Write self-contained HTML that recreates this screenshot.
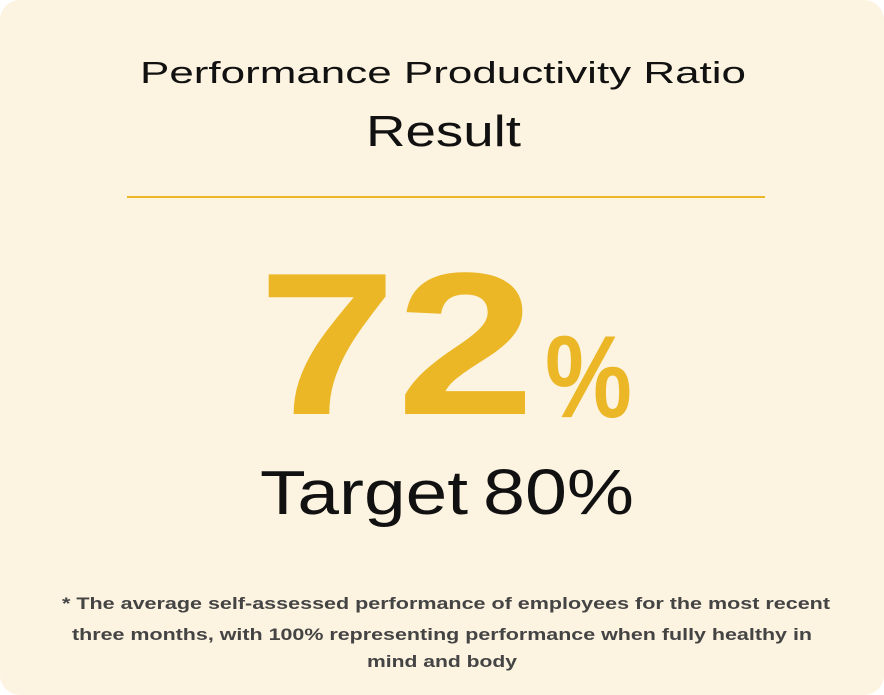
<!DOCTYPE html>
<html><head><meta charset="utf-8"><style>
html,body{margin:0;padding:0;background:#fff;}
.card{position:absolute;left:0;top:0;width:884px;height:695px;background:#fcf3e0;border-radius:20px;overflow:hidden;}
svg{position:absolute;left:0;top:0;}
</style></head><body>
<div class="card">
<svg width="884" height="695" xmlns="http://www.w3.org/2000/svg" font-family="Liberation Sans, sans-serif">
<text x="140" y="83" font-size="31" fill="#111" textLength="606" lengthAdjust="spacingAndGlyphs">Performance Productivity Ratio</text>
<text x="366" y="146" font-size="44" fill="#111" textLength="155" lengthAdjust="spacingAndGlyphs">Result</text>
<rect x="127" y="196" width="638" height="2" fill="#ebb726"/>
<text x="258" y="414" font-size="203" font-weight="bold" fill="#ebb726" textLength="277" lengthAdjust="spacingAndGlyphs">72</text>
<text x="545" y="417" font-size="117" font-weight="bold" fill="#ebb726" textLength="87" lengthAdjust="spacingAndGlyphs">%</text>
<text x="260" y="514" font-size="62" fill="#111" textLength="208" lengthAdjust="spacingAndGlyphs">Target</text>
<text x="483" y="514" font-size="64" fill="#111" textLength="151" lengthAdjust="spacingAndGlyphs">80%</text>
<g font-size="17" font-weight="bold" fill="#444" text-anchor="middle">
<text x="446" y="609" textLength="768" lengthAdjust="spacingAndGlyphs">* The average self-assessed performance of employees for the most recent</text>
<text x="442" y="640" textLength="740" lengthAdjust="spacingAndGlyphs">three months, with 100% representing performance when fully healthy in</text>
<text x="442" y="667" textLength="150" lengthAdjust="spacingAndGlyphs">mind and body</text>
</g>
</svg>
</div>
</body></html>
